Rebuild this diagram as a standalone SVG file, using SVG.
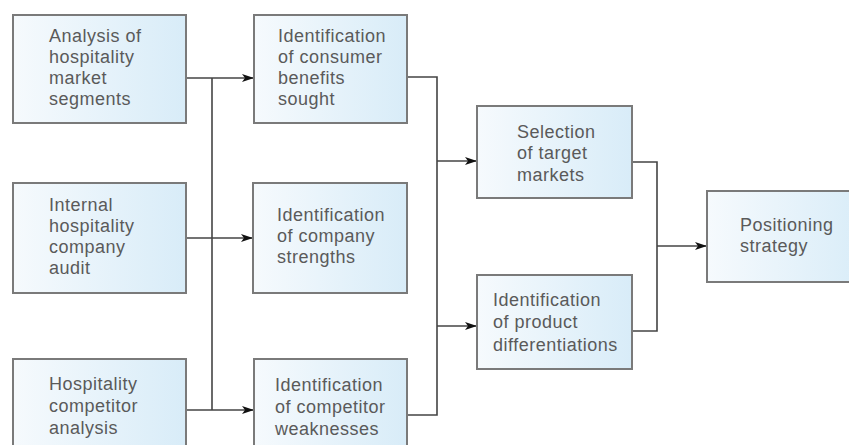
<svg xmlns="http://www.w3.org/2000/svg" width="849" height="445" viewBox="0 0 849 445">
<style>
.box{fill:url(#g);stroke:#7a7a7a;stroke-width:2}
.t{font-family:"Liberation Sans",Arial,sans-serif;font-size:18px;letter-spacing:0.5px;fill:#5a5a5a}
.c{fill:none;stroke:#444;stroke-width:1.6}
</style>
<defs>
<linearGradient id="g" x1="0" y1="0" x2="1" y2="0">
<stop offset="0" stop-color="#f6fafd"/>
<stop offset="1" stop-color="#d8ecf8"/>
</linearGradient>
<marker id="a" viewBox="0 0 12 8" refX="12" refY="4" markerWidth="12" markerHeight="8" markerUnits="userSpaceOnUse" orient="auto">
<path d="M0,0 L12,4 L0,8 L3,4 Z" fill="#111"/>
</marker>
</defs>
<rect width="849" height="445" fill="#fff"/>
<g id="connectors">
<path class="c" d="M186,78 H254" marker-end="url(#a)"/>
<path class="c" d="M212,78 V410"/>
<path class="c" d="M186,238 H253" marker-end="url(#a)"/>
<path class="c" d="M186,410 H254" marker-end="url(#a)"/>
<path class="c" d="M407,77 H437 V415 H407"/>
<path class="c" d="M437,161 H477" marker-end="url(#a)"/>
<path class="c" d="M437,326 H477" marker-end="url(#a)"/>
<path class="c" d="M632,162 H657 V331 H632"/>
<path class="c" d="M657,246 H707" marker-end="url(#a)"/>
</g>
<g id="n1">
<rect class="box" x="13" y="15" width="173" height="108"/>
<text class="t"><tspan x="49" y="42">Analysis of</tspan><tspan x="49" y="63">hospitality</tspan><tspan x="49" y="84">market</tspan><tspan x="49" y="105">segments</tspan></text>
</g>
<g id="n2">
<rect class="box" x="254" y="15" width="153" height="108"/>
<text class="t"><tspan x="278" y="42">Identification</tspan><tspan x="278" y="63">of consumer</tspan><tspan x="278" y="84">benefits</tspan><tspan x="278" y="105">sought</tspan></text>
</g>
<g id="n3">
<rect class="box" x="13" y="183" width="173" height="110"/>
<text class="t"><tspan x="49" y="211">Internal</tspan><tspan x="49" y="232">hospitality</tspan><tspan x="49" y="253">company</tspan><tspan x="49" y="274">audit</tspan></text>
</g>
<g id="n4">
<rect class="box" x="253" y="183" width="154" height="110"/>
<text class="t"><tspan x="277" y="221">Identification</tspan><tspan x="277" y="242">of company</tspan><tspan x="277" y="263">strengths</tspan></text>
</g>
<g id="n5">
<rect class="box" x="13" y="359" width="173" height="100"/>
<text class="t"><tspan x="49" y="390">Hospitality</tspan><tspan x="49" y="412">competitor</tspan><tspan x="49" y="434">analysis</tspan></text>
</g>
<g id="n6">
<rect class="box" x="254" y="359" width="153" height="100"/>
<text class="t"><tspan x="275" y="391">Identification</tspan><tspan x="275" y="413">of competitor</tspan><tspan x="275" y="435">weaknesses</tspan></text>
</g>
<g id="n7">
<rect class="box" x="477" y="106" width="155" height="92"/>
<text class="t"><tspan x="517" y="138">Selection</tspan><tspan x="517" y="159">of target</tspan><tspan x="517" y="181">markets</tspan></text>
</g>
<g id="n9">
<rect class="box" x="477" y="275" width="155" height="94"/>
<text class="t"><tspan x="493" y="306">Identification</tspan><tspan x="493" y="328">of product</tspan><tspan x="493" y="351">differentiations</tspan></text>
</g>
<g id="n8">
<rect class="box" x="707" y="191" width="160" height="91"/>
<text class="t"><tspan x="740" y="231">Positioning</tspan><tspan x="740" y="252">strategy</tspan></text>
</g>
</svg>
